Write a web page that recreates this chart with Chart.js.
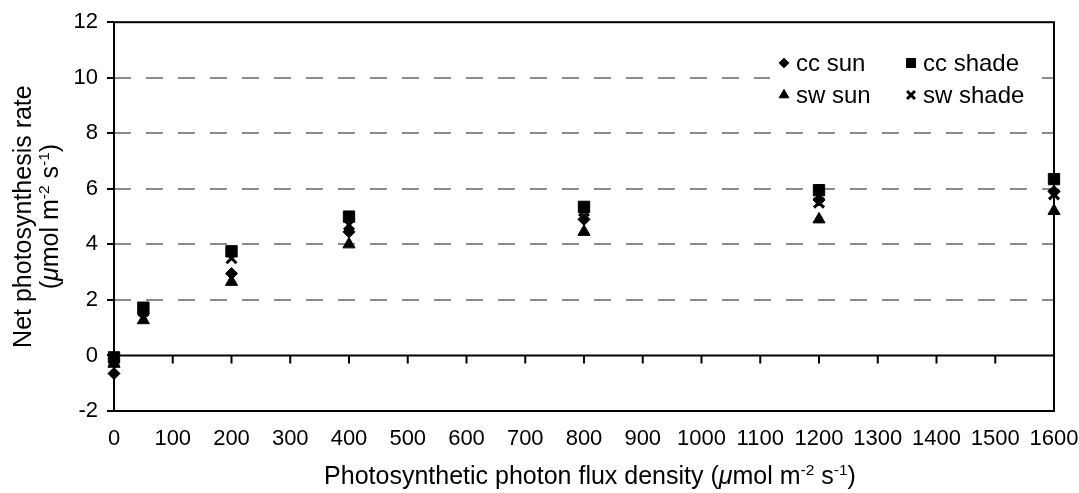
<!DOCTYPE html>
<html>
<head>
<meta charset="utf-8">
<script src="https://cdn.jsdelivr.net/npm/chart.js"></script>
<style>
  body { margin: 0; background: #fff; }
  #wrap { width: 1079px; height: 493px; position: relative; }
</style>
</head>
<body>
<div id="wrap"><canvas id="PhotoChart"></canvas></div>
<script>
// Data
const ppfd = [0, 50, 200, 400, 800, 1200, 1600];
const ccSun = [-0.65, 1.5, 2.95, 4.45, 4.9, 5.6, 5.9];
const ccShade = [-0.07, 1.72, 3.75, 5.0, 5.35, 5.95, 6.35];
const swSun = [-0.3, 1.27, 2.65, 4.0, 4.45, 4.9, 5.2];
const swShade = [-0.2, 1.6, 3.5, 4.7, 5.2, 5.5, 5.8];
const yTicks = [-2, 0, 2, 4, 6, 8, 10, 12];

const FONT = '"Liberation Sans", Arial, sans-serif';
const toPoints = vals => ppfd.map((x, i) => ({ x: x, y: vals[i] }));

// draws a line of text made of parts (plain, italic, superscript)
function richWidth(ctx, parts, size) {
    let w = 0;
    parts.forEach(p => {
        ctx.font = (p.i ? 'italic ' : '') + (p.sup ? size * 0.62 : size) + 'px ' + FONT;
        w += ctx.measureText(p.t).width;
    });
    return w;
}
function richText(ctx, parts, size, x, y) {
    let cx = x - richWidth(ctx, parts, size) / 2;
    parts.forEach(p => {
        ctx.font = (p.i ? 'italic ' : '') + (p.sup ? size * 0.62 : size) + 'px ' + FONT;
        ctx.fillText(p.t, cx, p.sup ? y - size * 0.38 : y);
        cx += ctx.measureText(p.t).width;
    });
}

const unitParts = [
    { t: '(' }, { t: 'μ', i: true }, { t: 'mol m' }, { t: '-2', sup: true },
    { t: ' s' }, { t: '-1', sup: true }, { t: ')' }
];

// frame, zero line with its ticks
const frame = {
    id: 'frame',
    beforeDatasetsDraw(chart) {
        const { ctx, chartArea: a, scales: { x, y } } = chart;
        ctx.save();
        ctx.strokeStyle = '#000';
        ctx.lineWidth = 2;
        ctx.strokeRect(a.left, a.top, a.right - a.left, a.bottom - a.top);
        const y0 = y.getPixelForValue(0);
        ctx.beginPath();
        ctx.moveTo(a.left, y0);
        ctx.lineTo(a.right, y0);
        x.ticks.forEach(t => {
            const px = x.getPixelForValue(t.value);
            ctx.moveTo(px, y0);
            ctx.lineTo(px, y0 + 8);
        });
        ctx.stroke();
        ctx.restore();
    }
};

// axis titles with superscripts
const titles = {
    id: 'titles',
    afterDraw(chart) {
        const { ctx, chartArea: a } = chart;
        const size = 25;
        ctx.save();
        ctx.fillStyle = '#000';
        ctx.textBaseline = 'alphabetic';
        ctx.textAlign = 'left';
        const xParts = [{ t: 'Photosynthetic photon flux density ' }].concat(unitParts);
        richText(ctx, xParts, size, (a.left + a.right) / 2 + 6, 484);

        const cy = (a.top + a.bottom) / 2;
        ctx.translate(31, cy);
        ctx.rotate(-Math.PI / 2);
        richText(ctx, [{ t: 'Net photosynthesis rate' }], size, 0, 0);
        ctx.restore();
        ctx.save();
        ctx.fillStyle = '#000';
        ctx.textBaseline = 'alphabetic';
        ctx.textAlign = 'left';
        ctx.translate(58, cy);
        ctx.rotate(-Math.PI / 2);
        richText(ctx, unitParts, size, 0, 0);
        ctx.restore();
    }
};

// legend box inside plot, 2 x 2
const boxLegend = {
    id: 'boxLegend',
    afterDatasetsDraw(chart) {
        const { ctx, chartArea: a } = chart;
        const left = a.right - 284, top = 45;
        ctx.save();
        ctx.fillStyle = '#fff';
        ctx.fillRect(left, top, 258, 70);
        chart.data.datasets.forEach((ds, i) => {
            const col = i % 2, row = Math.floor(i / 2);
            const mx = left + 14 + col * 127;
            const my = top + 18 + row * 32;
            ctx.fillStyle = '#000';
            ctx.strokeStyle = '#000';
            ctx.lineWidth = ds.pointBorderWidth;
            Chart.helpers.drawPoint(ctx, {
                pointStyle: ds.pointStyle, rotation: 0,
                radius: ds.pointRadius * 0.8, borderWidth: ds.pointBorderWidth
            }, mx, my);
            ctx.fillStyle = '#000';
            ctx.font = '24px ' + FONT;
            ctx.textBaseline = 'middle';
            ctx.textAlign = 'left';
            ctx.fillText(ds.label, mx + 12, my + 1);
        });
        ctx.restore();
    }
};

const ctxPhoto = document.getElementById('PhotoChart').getContext('2d');

new Chart(ctxPhoto, {
    type: 'scatter',
    data: {
        datasets: [
            { label: 'cc sun', data: toPoints(ccSun), pointStyle: 'rectRot', pointRadius: 6, pointBorderWidth: 1 },
            { label: 'cc shade', data: toPoints(ccShade), pointStyle: 'rect', pointRadius: 8, pointBorderWidth: 1 },
            { label: 'sw sun', data: toPoints(swSun), pointStyle: 'triangle', pointRadius: 7, pointBorderWidth: 1 },
            { label: 'sw shade', data: toPoints(swShade), pointStyle: 'crossRot', pointRadius: 7, pointBorderWidth: 3 }
        ].map(ds => Object.assign(ds, {
            backgroundColor: '#000',
            borderColor: '#000',
            pointHoverRadius: ds.pointRadius,
            clip: false
        }))
    },
    options: {
        responsive: true,
        maintainAspectRatio: false,
        animation: false,
        layout: {
            padding: { top: 19, right: 25, left: 0, bottom: 0 }
        },
        plugins: {
            legend: { display: false },
            tooltip: { enabled: false }
        },
        scales: {
            x: {
                type: 'linear',
                min: 0,
                max: 1600,
                afterFit: s => { s.height = 82; s.paddingRight = 0; s.paddingLeft = 0; },
                grid: { display: false },
                border: { display: false },
                ticks: {
                    stepSize: 100,
                    autoSkip: false,
                    maxRotation: 0,
                    padding: 7,
                    color: '#000',
                    font: { family: FONT, size: 22 },
                    callback: v => String(v)
                }
            },
            y: {
                min: -2,
                max: 12,
                afterFit: s => { s.width = 114; },
                afterBuildTicks: s => { s.ticks = yTicks.map(v => ({ value: v })); },
                border: { display: false, dash: [17, 15] },
                grid: {
                    color: c => (c.tick && c.tick.value > 0 && c.tick.value < 12) ? '#8a8a8a' : 'rgba(0,0,0,0)',
                    lineWidth: 2,
                    drawTicks: true,
                    tickLength: 7,
                    tickColor: '#000',
                    tickWidth: 2,
                    tickBorderDash: []
                },
                ticks: {
                    padding: 9,
                    color: '#000',
                    font: { family: FONT, size: 22 }
                }
            }
        }
    },
    plugins: [frame, boxLegend, titles]
});
</script>
</body>
</html>
